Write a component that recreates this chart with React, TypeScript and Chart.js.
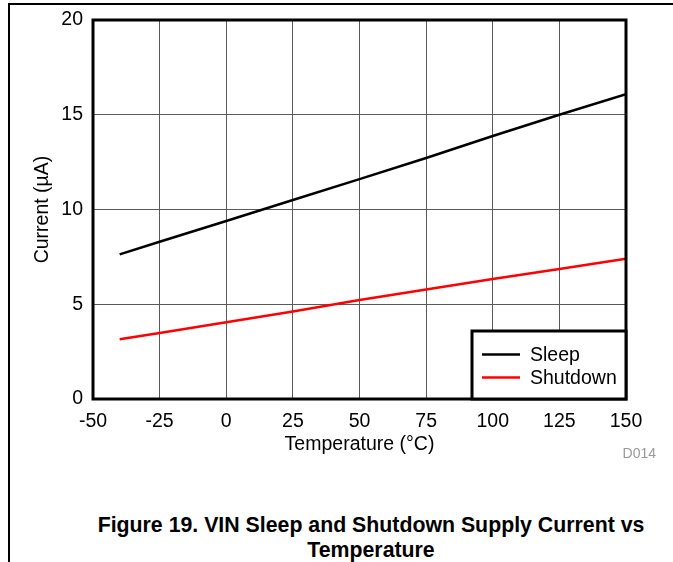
import React, { useEffect, useRef } from "react";
import { Chart, registerables } from "chart.js";

Chart.register(...registerables);

const temperatures = [-40, -25, 0, 25, 50, 75, 100, 125, 150];
const sleepCurrent = [7.63, 8.3, 9.39, 10.5, 11.6, 12.72, 13.88, 15.0, 16.08];
const shutdownCurrent = [3.15, 3.48, 4.05, 4.62, 5.22, 5.78, 6.33, 6.86, 7.4];
const seriesNames = ["Sleep", "Shutdown"];
const seriesColors = ["#000000", "#ff0000"];
const xTitle = "Temperature (°C)";
const yTitle = "Current (µA)";
const captionLines = [
  "Figure 19. VIN Sleep and Shutdown Supply Current vs",
  "Temperature",
];
const figureId = "D014";

const FONT = "'Liberation Sans', Arial, sans-serif";
const FS = 19.5;

const framePlugin = {
  id: "frame",
  afterDatasetsDraw(chart: any) {
    const { ctx, chartArea } = chart;
    ctx.save();
    ctx.strokeStyle = "#000";
    ctx.lineWidth = 3;
    ctx.strokeRect(
      chartArea.left,
      chartArea.top,
      chartArea.right - chartArea.left,
      chartArea.bottom - chartArea.top
    );
    ctx.restore();
  },
};

const legendPlugin = {
  id: "insideLegend",
  afterDraw(chart: any) {
    const { ctx, chartArea } = chart;
    const w = 154;
    const h = 68;
    const x0 = chartArea.right - w;
    const y0 = chartArea.bottom - h;
    ctx.save();
    ctx.fillStyle = "#fff";
    ctx.fillRect(x0, y0, w, h);
    ctx.strokeStyle = "#000";
    ctx.lineWidth = 3;
    ctx.strokeRect(x0, y0, w, h);
    ctx.font = `${FS}px ${FONT}`;
    ctx.textBaseline = "middle";
    ctx.textAlign = "left";
    chart.data.datasets.forEach((ds: any, i: number) => {
      const y = y0 + 24.5 + i * 23;
      ctx.strokeStyle = ds.borderColor;
      ctx.lineWidth = 2.5;
      ctx.beginPath();
      ctx.moveTo(x0 + 10, y - 1);
      ctx.lineTo(x0 + 48, y - 1);
      ctx.stroke();
      ctx.fillStyle = "#000";
      ctx.fillText(ds.label, x0 + 58, y);
    });
    ctx.restore();
  },
};

export default function App() {
  const ref = useRef<HTMLCanvasElement>(null);

  useEffect(() => {
    if (!ref.current) return;
    const mk = (vals: number[]) =>
      temperatures.map((t, i) => ({ x: t, y: vals[i] }));
    const chart = new Chart(ref.current, {
      type: "line",
      data: {
        datasets: [
          {
            label: seriesNames[0],
            data: mk(sleepCurrent),
            borderColor: seriesColors[0],
            backgroundColor: seriesColors[0],
            borderWidth: 2.5,
            pointRadius: 0,
            tension: 0,
          },
          {
            label: seriesNames[1],
            data: mk(shutdownCurrent),
            borderColor: seriesColors[1],
            backgroundColor: seriesColors[1],
            borderWidth: 2.5,
            pointRadius: 0,
            tension: 0,
          },
        ],
      },
      options: {
        responsive: false,
        animation: false,
        devicePixelRatio: 1,
        layout: { padding: { left: 0, right: 47, top: 20, bottom: 0 } },
        plugins: { legend: { display: false }, tooltip: { enabled: false } },
        scales: {
          x: {
            type: "linear",
            min: -50,
            max: 150,
            ticks: {
              stepSize: 25,
              color: "#000",
              font: { family: FONT, size: FS },
              padding: 11,
              maxRotation: 0,
            },
            grid: { color: "#5a5a5a", lineWidth: 1, drawTicks: false },
            border: { display: false },
            title: {
              display: true,
              text: xTitle,
              color: "#000",
              font: { family: FONT, size: FS },
              padding: { top: 0, bottom: 0 },
            },
            afterFit(scale: any) {
              scale.height = 57;
              scale.paddingLeft = 0;
              scale.paddingRight = 0;
            },
          },
          y: {
            min: 0,
            max: 20,
            ticks: {
              stepSize: 5,
              color: "#000",
              font: { family: FONT, size: FS },
              padding: 10,
            },
            grid: { color: "#5a5a5a", lineWidth: 1, drawTicks: false },
            border: { display: false },
            title: {
              display: true,
              text: yTitle,
              color: "#000",
              font: { family: FONT, size: FS },
              padding: { top: 31, bottom: 0 },
            },
            afterFit(scale: any) {
              scale.width = 93;
              scale.paddingTop = 0;
              scale.paddingBottom = 0;
            },
          },
        },
      },
      plugins: [framePlugin, legendPlugin],
    });
    return () => chart.destroy();
  }, []);

  return (
    <div
      style={{
        position: "absolute",
        left: 0,
        top: 0,
        width: 673,
        height: 562,
        background: "#fff",
        overflow: "hidden",
        fontFamily: FONT,
      }}
    >
      <div
        style={{
          position: "absolute",
          left: 8,
          top: 3,
          width: 670,
          height: 570,
          borderTop: "2px solid #000",
          borderLeft: "2px solid #000",
        }}
      />
      <canvas
        ref={ref}
        width={673}
        height={456}
        style={{ position: "absolute", left: 0, top: 0, display: "block" }}
      />
      <div
        style={{
          position: "absolute",
          right: 17,
          top: 444,
          fontSize: 14,
          color: "#999",
          lineHeight: "18px",
        }}
      >
        {figureId}
      </div>
      <div
        style={{
          position: "absolute",
          left: 71,
          width: 600,
          top: 513,
          textAlign: "center",
          fontWeight: "bold",
          fontSize: 21.3,
          lineHeight: "25px",
          color: "#000",
        }}
      >
        {captionLines.map((l, i) => (
          <div key={i}>{l}</div>
        ))}
      </div>
    </div>
  );
}
